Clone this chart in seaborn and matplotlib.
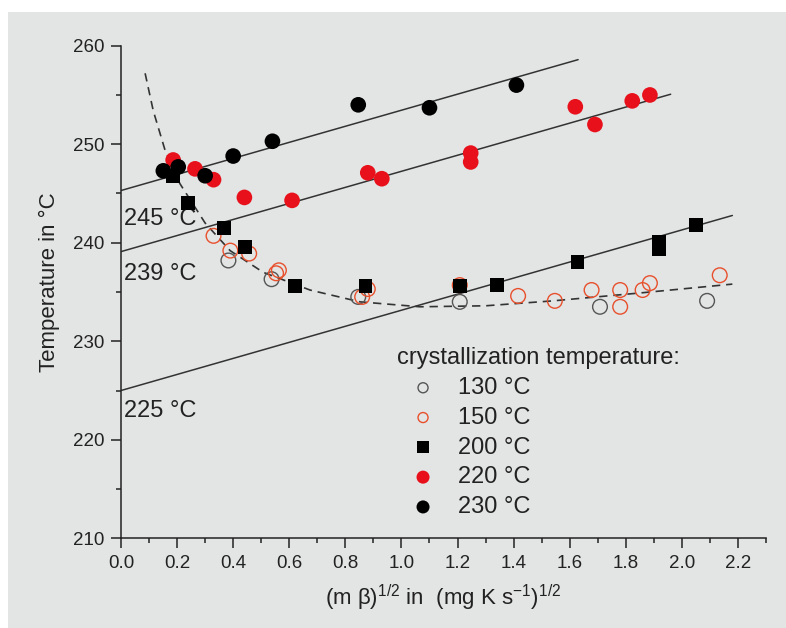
import matplotlib
matplotlib.use("Agg")
import matplotlib.pyplot as plt
from matplotlib.patches import Rectangle
from matplotlib.ticker import MultipleLocator
import pandas as pd
import seaborn as sns

# values -----------------------------------------------------------------------------------

# x = (m beta)^1/2 , y = temperature
x_130 = [0.383, 0.537, 0.846, 1.208, 1.708, 2.09]
t_130 = [238.2, 236.3, 234.5, 234.0, 233.5, 234.1]

x_150 = [0.33, 0.39, 0.457, 0.563, 0.553, 0.88, 0.86, 1.208, 1.416, 1.547, 1.678, 1.78, 1.78, 1.86, 1.886, 2.135]
t_150 = [240.7, 239.2, 238.9, 237.2, 236.9, 235.3, 234.5, 235.7, 234.6, 234.1, 235.2, 235.2, 233.5, 235.2, 235.9, 236.7]

x_200 = [0.186, 0.24, 0.367, 0.442, 0.62, 0.872, 1.208, 1.34, 1.628, 1.92, 1.92, 2.05]
t_200 = [246.8, 244.0, 241.5, 239.6, 235.6, 235.6, 235.6, 235.7, 238.0, 240.1, 239.4, 241.8]

x_220 = [0.186, 0.264, 0.33, 0.44, 0.61, 0.88, 0.93, 1.247, 1.247, 1.62, 1.69, 1.823, 1.886]
t_220 = [248.4, 247.5, 246.4, 244.6, 244.3, 247.1, 246.5, 249.1, 248.2, 253.8, 252.0, 254.4, 255.0]

x_230 = [0.151, 0.204, 0.30, 0.40, 0.54, 0.846, 1.10, 1.41]
t_230 = [247.3, 247.7, 246.8, 248.8, 250.3, 254.0, 253.7, 256.0]

# dashed guide curve
x_curve = [0.086, 0.115, 0.157, 0.21, 0.30, 0.389, 0.507, 0.674, 0.852, 1.066, 1.30, 1.54, 1.85, 2.18]
t_curve = [257.2, 253.4, 249.4, 246.0, 242.0, 239.2, 237.0, 235.2, 234.0, 233.5, 233.6, 234.1, 234.9, 235.8]

# straight lines: intercept at x = 0, common slope, end of line
line_t0 = [245.3, 239.1, 225.0]
line_slope = [8.15, 8.15, 8.15]
line_xend = [1.63, 1.96, 2.18]
line_labels = ["245 °C", "239 °C", "225 °C"]
line_label_t = [242.4, 236.8, 222.9]

legend_labels = ["130 °C", "150 °C", "200 °C", "220 °C", "230 °C"]

# -----------------------------------------------------------------------------------------

sns.set_style("ticks")
plt.rcParams["font.family"] = ["Liberation Sans", "DejaVu Sans"]
plt.rcParams["mathtext.fontset"] = "custom"
plt.rcParams["mathtext.rm"] = "Liberation Sans"
plt.rcParams["mathtext.it"] = "Liberation Sans:italic"
plt.rcParams["axes.unicode_minus"] = False

ink = "#222222"
bg = "#e3e4e4"

fig = plt.figure(figsize=(7.86, 6.28), dpi=100, facecolor="white")
fig.patches.append(Rectangle((8 / 786, 0), 1, 1 - 12 / 628, transform=fig.transFigure,
                             facecolor=bg, edgecolor="none", zorder=-10))
ax = fig.add_axes([121 / 786, (628 - 538.3) / 628, 645 / 786, 492.6 / 628])
ax.set_facecolor("none")

# fitted lines
for t0, k, xe in zip(line_t0, line_slope, line_xend):
    ln = pd.DataFrame({"x": [0, xe], "T": [t0, t0 + k * xe]})
    sns.lineplot(data=ln, x="x", y="T", color="#333333", lw=1.1, ax=ax, zorder=2)

# dashed curve
curve = pd.DataFrame({"x": x_curve, "T": t_curve})
sns.lineplot(data=curve, x="x", y="T", sort=False, color="#333333", lw=1.2,
             dashes=False, ax=ax, zorder=2).lines[-1].set_linestyle((0, (5, 3.5)))

sns.scatterplot(x=x_130, y=t_130, marker="o", s=112, facecolors="none", edgecolor="#555555",
                linewidth=1.0, label=legend_labels[0], ax=ax, zorder=3)
sns.scatterplot(x=x_150, y=t_150, marker="o", s=112, facecolors="none", edgecolor="#e8502c",
                linewidth=1.0, label=legend_labels[1], ax=ax, zorder=3)
sns.scatterplot(x=x_200, y=t_200, marker="s", s=100, color="black", edgecolor="none",
                label=legend_labels[2], ax=ax, zorder=4)
sns.scatterplot(x=x_220, y=t_220, marker="o", s=127, color="#e8101a", edgecolor="none",
                label=legend_labels[3], ax=ax, zorder=4)
sns.scatterplot(x=x_230, y=t_230, marker="o", s=127, color="black", edgecolor="none",
                label=legend_labels[4], ax=ax, zorder=5)

for lab, t in zip(line_labels, line_label_t):
    ax.text(0.01, t, lab, fontsize=17, color=ink, va="center", ha="left")

ax.set_xlim(0, 2.3)
ax.set_ylim(210, 260)
ax.xaxis.set_major_locator(MultipleLocator(0.2))
ax.xaxis.set_minor_locator(MultipleLocator(0.1))
ax.yaxis.set_major_locator(MultipleLocator(10))
ax.yaxis.set_minor_locator(MultipleLocator(5))
ax.xaxis.set_major_formatter(matplotlib.ticker.FormatStrFormatter("%.1f"))
ax.tick_params(which="major", length=7, width=1.1, color=ink, labelsize=13.5, labelcolor=ink, pad=5)
ax.tick_params(which="minor", length=3.6, width=1.1, color=ink)
sns.despine(ax=ax)
for s in ("left", "bottom"):
    ax.spines[s].set_color(ink)
    ax.spines[s].set_linewidth(1.1)

ax.set_xlabel(r"(m β)$^{\mathregular{1/2}}$ in  (mg K s$^{\mathregular{-1}}$)$^{\mathregular{1/2}}$",
              fontsize=16, color=ink, labelpad=8)
ax.set_ylabel("Temperature in °C", fontsize=16, color=ink)
ax.yaxis.set_label_coords(-0.095, 0.52)

leg = ax.legend(title="crystallization temperature:", loc="upper left", bbox_to_anchor=(0.428, 0.388),
                frameon=False, fontsize=17, title_fontsize=17, alignment="left",
                handlelength=2.2, handletextpad=0.38, labelspacing=0.33, borderpad=0, borderaxespad=0)
for h, sz in zip(leg.legend_handles, [52, 52, 75, 88, 88]):
    h.set_sizes([sz])
for txt in leg.get_texts():
    txt.set_color(ink)
leg.get_title().set_color(ink)

fig.savefig("out.png", dpi=100, facecolor=fig.get_facecolor())
